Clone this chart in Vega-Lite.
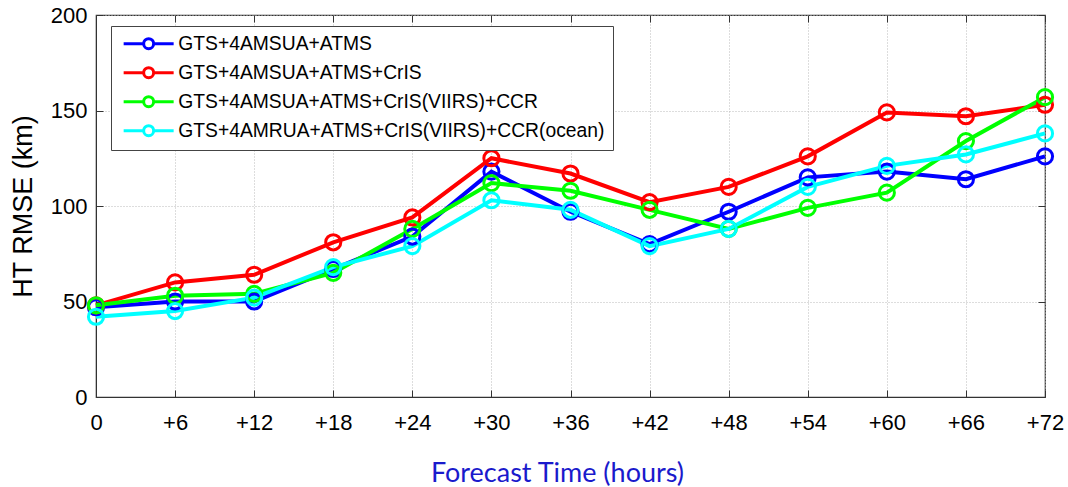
{
  "$schema": "https://vega.github.io/schema/vega-lite/v6.json",
  "width": 949,
  "height": 382,
  "autosize": "none",
  "padding": {"left": 96, "top": 15, "right": 23, "bottom": 90},
  "background": "white",
  "config": {
    "view": {"stroke": "#333333", "strokeWidth": 1.2},
    "font": "Liberation Sans"
  },
  "data": {
    "values": [
      {"hour": 0, "series": "GTS+4AMSUA+ATMS", "rmse": 47},
      {"hour": 6, "series": "GTS+4AMSUA+ATMS", "rmse": 50},
      {"hour": 12, "series": "GTS+4AMSUA+ATMS", "rmse": 50},
      {"hour": 18, "series": "GTS+4AMSUA+ATMS", "rmse": 67},
      {"hour": 24, "series": "GTS+4AMSUA+ATMS", "rmse": 84},
      {"hour": 30, "series": "GTS+4AMSUA+ATMS", "rmse": 118},
      {"hour": 36, "series": "GTS+4AMSUA+ATMS", "rmse": 97},
      {"hour": 42, "series": "GTS+4AMSUA+ATMS", "rmse": 80},
      {"hour": 48, "series": "GTS+4AMSUA+ATMS", "rmse": 97},
      {"hour": 54, "series": "GTS+4AMSUA+ATMS", "rmse": 115},
      {"hour": 60, "series": "GTS+4AMSUA+ATMS", "rmse": 118},
      {"hour": 66, "series": "GTS+4AMSUA+ATMS", "rmse": 114},
      {"hour": 72, "series": "GTS+4AMSUA+ATMS", "rmse": 126},
      {"hour": 0, "series": "GTS+4AMSUA+ATMS+CrIS", "rmse": 48},
      {"hour": 6, "series": "GTS+4AMSUA+ATMS+CrIS", "rmse": 60},
      {"hour": 12, "series": "GTS+4AMSUA+ATMS+CrIS", "rmse": 64},
      {"hour": 18, "series": "GTS+4AMSUA+ATMS+CrIS", "rmse": 81},
      {"hour": 24, "series": "GTS+4AMSUA+ATMS+CrIS", "rmse": 94},
      {"hour": 30, "series": "GTS+4AMSUA+ATMS+CrIS", "rmse": 125},
      {"hour": 36, "series": "GTS+4AMSUA+ATMS+CrIS", "rmse": 117},
      {"hour": 42, "series": "GTS+4AMSUA+ATMS+CrIS", "rmse": 102},
      {"hour": 48, "series": "GTS+4AMSUA+ATMS+CrIS", "rmse": 110},
      {"hour": 54, "series": "GTS+4AMSUA+ATMS+CrIS", "rmse": 126},
      {"hour": 60, "series": "GTS+4AMSUA+ATMS+CrIS", "rmse": 149},
      {"hour": 66, "series": "GTS+4AMSUA+ATMS+CrIS", "rmse": 147},
      {"hour": 72, "series": "GTS+4AMSUA+ATMS+CrIS", "rmse": 153},
      {"hour": 0, "series": "GTS+4AMSUA+ATMS+CrIS(VIIRS)+CCR", "rmse": 48},
      {"hour": 6, "series": "GTS+4AMSUA+ATMS+CrIS(VIIRS)+CCR", "rmse": 53},
      {"hour": 12, "series": "GTS+4AMSUA+ATMS+CrIS(VIIRS)+CCR", "rmse": 54},
      {"hour": 18, "series": "GTS+4AMSUA+ATMS+CrIS(VIIRS)+CCR", "rmse": 65},
      {"hour": 24, "series": "GTS+4AMSUA+ATMS+CrIS(VIIRS)+CCR", "rmse": 88},
      {"hour": 30, "series": "GTS+4AMSUA+ATMS+CrIS(VIIRS)+CCR", "rmse": 112},
      {"hour": 36, "series": "GTS+4AMSUA+ATMS+CrIS(VIIRS)+CCR", "rmse": 108},
      {"hour": 42, "series": "GTS+4AMSUA+ATMS+CrIS(VIIRS)+CCR", "rmse": 98},
      {"hour": 48, "series": "GTS+4AMSUA+ATMS+CrIS(VIIRS)+CCR", "rmse": 88},
      {"hour": 54, "series": "GTS+4AMSUA+ATMS+CrIS(VIIRS)+CCR", "rmse": 99},
      {"hour": 60, "series": "GTS+4AMSUA+ATMS+CrIS(VIIRS)+CCR", "rmse": 107},
      {"hour": 66, "series": "GTS+4AMSUA+ATMS+CrIS(VIIRS)+CCR", "rmse": 134},
      {"hour": 72, "series": "GTS+4AMSUA+ATMS+CrIS(VIIRS)+CCR", "rmse": 157},
      {"hour": 0, "series": "GTS+4AMRUA+ATMS+CrIS(VIIRS)+CCR(ocean)", "rmse": 42},
      {"hour": 6, "series": "GTS+4AMRUA+ATMS+CrIS(VIIRS)+CCR(ocean)", "rmse": 45},
      {"hour": 12, "series": "GTS+4AMRUA+ATMS+CrIS(VIIRS)+CCR(ocean)", "rmse": 52},
      {"hour": 18, "series": "GTS+4AMRUA+ATMS+CrIS(VIIRS)+CCR(ocean)", "rmse": 68},
      {"hour": 24, "series": "GTS+4AMRUA+ATMS+CrIS(VIIRS)+CCR(ocean)", "rmse": 79},
      {"hour": 30, "series": "GTS+4AMRUA+ATMS+CrIS(VIIRS)+CCR(ocean)", "rmse": 103},
      {"hour": 36, "series": "GTS+4AMRUA+ATMS+CrIS(VIIRS)+CCR(ocean)", "rmse": 98},
      {"hour": 42, "series": "GTS+4AMRUA+ATMS+CrIS(VIIRS)+CCR(ocean)", "rmse": 79},
      {"hour": 48, "series": "GTS+4AMRUA+ATMS+CrIS(VIIRS)+CCR(ocean)", "rmse": 88},
      {"hour": 54, "series": "GTS+4AMRUA+ATMS+CrIS(VIIRS)+CCR(ocean)", "rmse": 110},
      {"hour": 60, "series": "GTS+4AMRUA+ATMS+CrIS(VIIRS)+CCR(ocean)", "rmse": 121},
      {"hour": 66, "series": "GTS+4AMRUA+ATMS+CrIS(VIIRS)+CCR(ocean)", "rmse": 127},
      {"hour": 72, "series": "GTS+4AMRUA+ATMS+CrIS(VIIRS)+CCR(ocean)", "rmse": 138}
    ]
  },
  "resolve": {"axis": {"x": "independent", "y": "independent"}},
  "layer": [
    {
      "mark": {"type": "line", "strokeWidth": 4, "point": {"shape": "circle", "filled": false, "size": 230, "strokeWidth": 3, "opacity": 1}},
      "encoding": {
        "x": {
          "field": "hour",
          "type": "quantitative",
          "scale": {"domain": [0, 72], "nice": false, "zero": false},
          "axis": {
            "orient": "bottom",
            "values": [0, 6, 12, 18, 24, 30, 36, 42, 48, 54, 60, 66, 72],
            "labelExpr": "datum.value == 0 ? '0' : '+' + datum.value",
            "title": "Forecast Time (hours)",
            "titleColor": "#1a1acc",
            "titleFont": "Lato",
            "titleFontWeight": "normal",
            "titleFontSize": 27,
            "titlePadding": 27,
            "titleX": 461,
            "labelFont": "Liberation Sans",
            "labelFontSize": 22,
            "labelColor": "black",
            "labelPadding": 22,
            "labelFlush": false,
            "tickSize": -7,
            "tickColor": "#333333",
            "domainColor": "#333333",
            "grid": true,
            "gridColor": "#bbbbbb",
            "gridDash": [1, 2],
            "gridWidth": 1
          }
        },
        "y": {
          "field": "rmse",
          "type": "quantitative",
          "scale": {"domain": [0, 200], "nice": false},
          "axis": {
            "orient": "left",
            "values": [0, 50, 100, 150, 200],
            "title": "HT RMSE (km)",
            "titleColor": "black",
            "titleFont": "Liberation Sans",
            "titleFontWeight": "normal",
            "titleFontSize": 27,
            "titlePadding": 13,
            "labelFont": "Liberation Sans",
            "labelFontSize": 22,
            "labelColor": "black",
            "labelPadding": 16,
            "tickSize": -7,
            "tickColor": "#333333",
            "domainColor": "#333333",
            "grid": true,
            "gridColor": "#bbbbbb",
            "gridDash": [1, 2],
            "gridWidth": 1
          }
        },
        "color": {
          "field": "series",
          "type": "nominal",
          "scale": {
            "domain": ["GTS+4AMSUA+ATMS", "GTS+4AMSUA+ATMS+CrIS", "GTS+4AMSUA+ATMS+CrIS(VIIRS)+CCR", "GTS+4AMRUA+ATMS+CrIS(VIIRS)+CCR(ocean)"],
            "range": ["#0000ff", "#ff0000", "#00ff00", "#00ffff"]
          },
          "legend": {
            "title": null,
            "orient": "none",
            "legendX": 15,
            "legendY": 11,
            "padding": 8,
            "strokeColor": "#444444",
            "fillColor": "white",
            "labelFont": "Liberation Sans",
            "labelFontSize": 19.3,
            "labelColor": "black",
            "labelLimit": 0,
            "rowPadding": 6,
            "labelOffset": 20,
            "symbolOffset": 20,
            "symbolType": "M-5,0H-1M1,0H5M1,0A1,1 0 1,1 -1,0A1,1 0 1,1 1,0",
            "symbolSize": 100,
            "symbolStrokeWidth": 3,
            "symbolFillColor": "transparent"
          }
        }
      }
    },
    {
      "mark": {"type": "point", "opacity": 0},
      "encoding": {
        "x": {
          "field": "hour",
          "type": "quantitative",
          "scale": {"domain": [0, 72], "nice": false, "zero": false},
          "axis": {"orient": "top", "values": [0, 6, 12, 18, 24, 30, 36, 42, 48, 54, 60, 66, 72], "labels": false, "title": null, "grid": false, "domain": false, "tickSize": -7, "tickColor": "#333333"}
        },
        "y": {
          "field": "rmse",
          "type": "quantitative",
          "scale": {"domain": [0, 200], "nice": false},
          "axis": {"orient": "right", "values": [0, 50, 100, 150, 200], "labels": false, "title": null, "grid": false, "domain": false, "tickSize": -7, "tickColor": "#333333"}
        }
      }
    }
  ]
}
